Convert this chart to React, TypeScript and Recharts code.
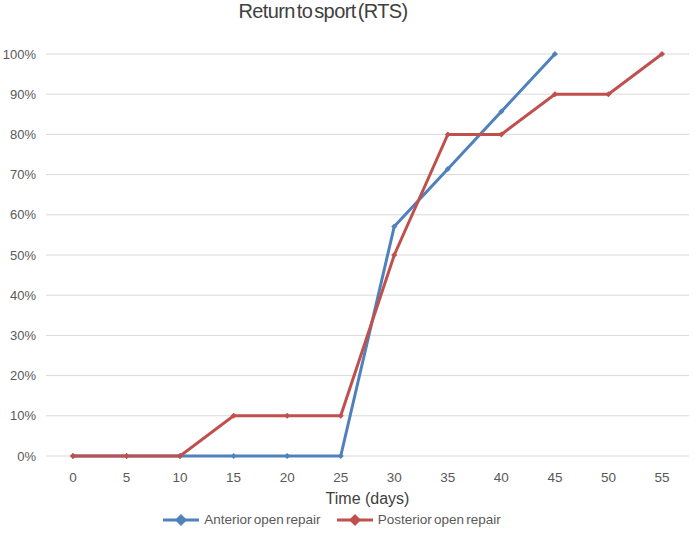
import React from 'react';
import {
  LineChart,
  Line,
  XAxis,
  YAxis,
  CartesianGrid,
  Legend,
} from 'recharts';

const days = ['0', '5', '10', '15', '20', '25', '30', '35', '40', '45', '50', '55'];
const anterior = [0, 0, 0, 0, 0, 0, 0.571, 0.714, 0.857, 1.0, null, null];
const posterior = [0, 0, 0, 0.1, 0.1, 0.1, 0.5, 0.8, 0.8, 0.9, 0.9, 1.0];
const yTicks = [0, 0.1, 0.2, 0.3, 0.4, 0.5, 0.6, 0.7, 0.8, 0.9, 1.0];

const BLUE = '#4f81bd';
const RED = '#c0504d';
const FONT = '"Liberation Sans", Arial, sans-serif';

const data = days.map((d, i) => ({
  day: d,
  anterior: anterior[i],
  posterior: posterior[i],
}));

const Diamond = (props: any) => {
  const { cx, cy, fill, r = 3.5 } = props;
  if (cx == null || cy == null || props.value == null) return null;
  return (
    <path
      d={`M${cx},${cy - r} L${cx + r},${cy} L${cx},${cy + r} L${cx - r},${cy} Z`}
      fill={fill}
    />
  );
};

const LegendContent = () => {
  const items = [
    { label: 'Anterior open repair', color: BLUE },
    { label: 'Posterior open repair', color: RED },
  ];
  return (
    <div style={{ display: 'flex', justifyContent: 'center', gap: 16, fontFamily: FONT, fontSize: 13.5, color: '#595959', paddingRight: 25 }}>
      {items.map((it) => (
        <div key={it.label} style={{ display: 'flex', alignItems: 'center', gap: 5 }}>
          <svg width={36} height={12}>
            <line x1={0} y1={6} x2={36} y2={6} stroke={it.color} strokeWidth={3} />
            <path d="M18,0 L24,6 L18,12 L12,6 Z" fill={it.color} />
          </svg>
          <span style={{ wordSpacing: -1.5 }}>{it.label}</span>
        </div>
      ))}
    </div>
  );
};

export default function App() {
  return (
    <div style={{ position: 'absolute', left: 0, top: 0, width: 700, height: 537, background: '#fff' }}>
      <div
        style={{
          position: 'absolute',
          top: 0,
          left: 0,
          width: 646,
          textAlign: 'center',
          fontFamily: FONT,
          fontSize: 20,
          lineHeight: '22px',
          color: '#404040',
          wordSpacing: -3,
          letterSpacing: -0.6,
        }}
      >
        Return to sport (RTS)
      </div>
      <LineChart
        width={700}
        height={537}
        data={data}
        margin={{ top: 54, right: 11, left: 0, bottom: 0 }}
      >
        <CartesianGrid vertical={false} stroke="#d9d9d9" strokeWidth={1} />
        <XAxis
          dataKey="day"
          axisLine={false}
          tickLine={false}
          padding={{ left: 27, right: 27 }}
          tick={{ fill: '#595959', fontSize: 13.5, fontFamily: FONT }}
          height={56}
          dy={8}
          label={{
            value: 'Time (days)',
            position: 'insideBottom',
            offset: 8,
            fill: '#404040',
            fontSize: 16,
            fontFamily: FONT,
          }}
        />
        <YAxis
          domain={[0, 1]}
          ticks={yTicks}
          width={46}
          axisLine={false}
          tickLine={false}
          tick={{ fill: '#595959', fontSize: 13, fontFamily: FONT }}
          tickFormatter={(v: number) => `${Math.round(v * 100)}%`}
          dx={-2}
        />
        <Legend verticalAlign="bottom" height={25} content={<LegendContent />} />
        <Line
          dataKey="anterior"
          name="Anterior open repair"
          stroke={BLUE}
          strokeWidth={3}
          dot={<Diamond fill={BLUE} />}
          activeDot={false}
          connectNulls={false}
          isAnimationActive={false}
        />
        <Line
          dataKey="posterior"
          name="Posterior open repair"
          stroke={RED}
          strokeWidth={3}
          dot={<Diamond fill={RED} />}
          activeDot={false}
          isAnimationActive={false}
        />
      </LineChart>
    </div>
  );
}
